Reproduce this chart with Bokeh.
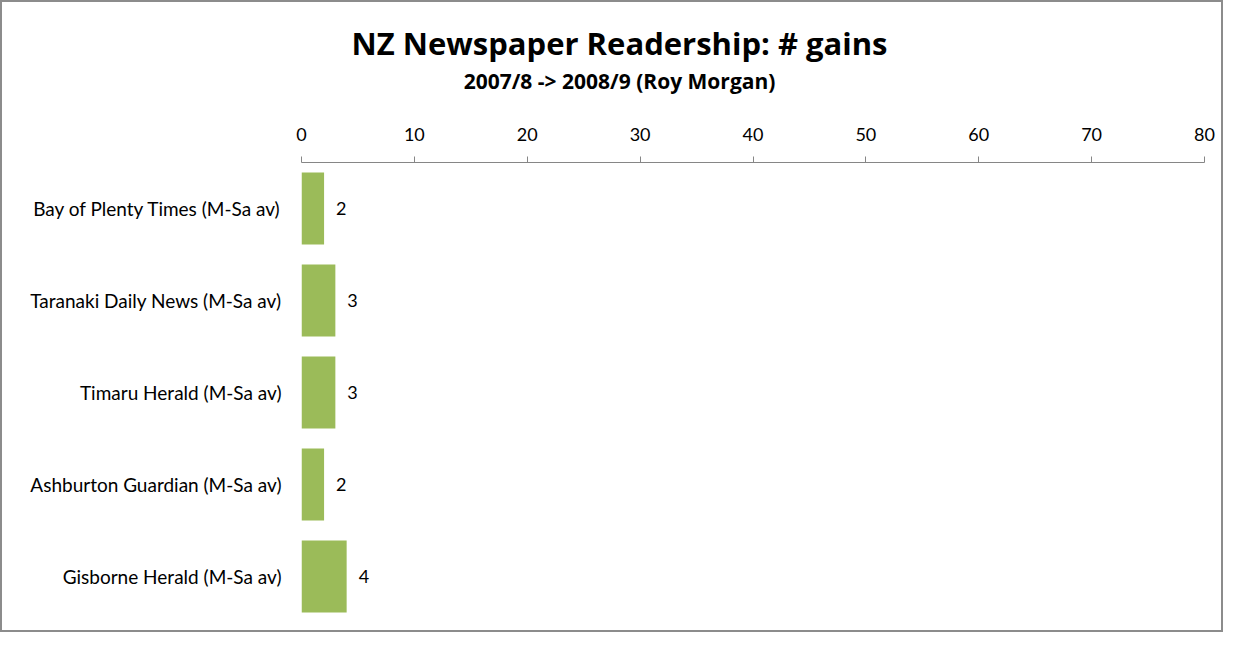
from bokeh.plotting import figure
from bokeh.layouts import column
from bokeh.models import ColumnDataSource, LabelSet, FixedTicker, Range1d, FactorRange
from bokeh.core.properties import value
from bokeh.embed import file_html
from bokeh.resources import INLINE

papers = [
    "Bay of Plenty Times (M-Sa av)",
    "Taranaki Daily News (M-Sa av)",
    "Timaru Herald (M-Sa av)",
    "Ashburton Guardian (M-Sa av)",
    "Gisborne Herald (M-Sa av)",
]
gains = [2, 3, 3, 2, 4]
x_ticks = [0, 10, 20, 30, 40, 50, 60, 70, 80]
title_text = "NZ Newspaper Readership: # gains"
subtitle_text = "2007/8 -> 2008/9 (Roy Morgan)"

BORDER = 2
WI = 1219          # inner width (plus 2px border each side -> 1223)
TH = 106           # title strip height
MH = 522           # main chart height
FONT = "Lato"
TFONT = "Open Sans"
FL, FR, FT, FB = 299, 17, 54, 8

# ---------- title strip (frame aligned with main frame; x in pixels) ----------
tfig = figure(width=WI, height=TH, title=None,
              x_range=Range1d(FL, WI - FR), y_range=Range1d(0, TH),
              x_axis_type=None, y_axis_type=None, output_backend="svg",
              toolbar_location=None, min_border_left=FL, min_border_right=FR,
              min_border_top=0, min_border_bottom=0)
tfig.outline_line_color = None
tfig.grid.visible = False
tsrc = ColumnDataSource(dict(x=[617, 617], y=[65.9, 27.3],
                             t=[title_text, subtitle_text], fs=["31px", "21px"]))
tfig.text(x="x", y="y", text="t", source=tsrc, text_align="center",
          text_baseline="alphabetic", text_font=value(TFONT), text_font_style="bold",
          text_font_size="fs", text_color="#000000")

# ---------- main chart ----------
src = ColumnDataSource(dict(paper=papers, gain=gains, lab=[str(g) for g in gains]))

p = figure(width=WI, height=MH, title=None,
           y_range=FactorRange(factors=list(reversed(papers)), range_padding=0),
           x_range=Range1d(0, 80), x_axis_location="above",
           output_backend="svg", toolbar_location=None,
           min_border_left=FL, min_border_right=FR, min_border_top=FT, min_border_bottom=FB)
p.outline_line_color = None
p.grid.visible = False

p.hbar(y="paper", right="gain", left=0, height=0.78, source=src,
       color="#9BBB59", line_color=None)

p.add_layout(LabelSet(x="gain", y="paper", text="lab", source=src, x_offset=12,
                      text_baseline="middle", text_font=value(FONT),
                      text_font_size="18px", text_color="#000000"))

xa = p.xaxis[0]
xa.ticker = FixedTicker(ticks=x_ticks)
xa.axis_line_color = "#868686"
xa.major_tick_line_color = "#868686"
xa.minor_tick_line_color = None
xa.major_tick_in = 0
xa.major_tick_out = 6
xa.major_label_standoff = 16
xa.major_label_text_font = FONT
xa.major_label_text_font_size = "18px"
xa.major_label_text_color = "#000000"

ya = p.yaxis[0]
ya.axis_line_color = None
ya.major_tick_line_color = None
ya.minor_tick_line_color = None
ya.major_label_standoff = 14
ya.major_label_text_font = FONT
ya.major_label_text_font_size = "19px"
ya.major_label_text_color = "#000000"

layout = column(tfig, p, spacing=0,
                styles={"border": f"{BORDER}px solid #8c8c8c"})

open("out.html", "w").write(file_html(layout, INLINE))
